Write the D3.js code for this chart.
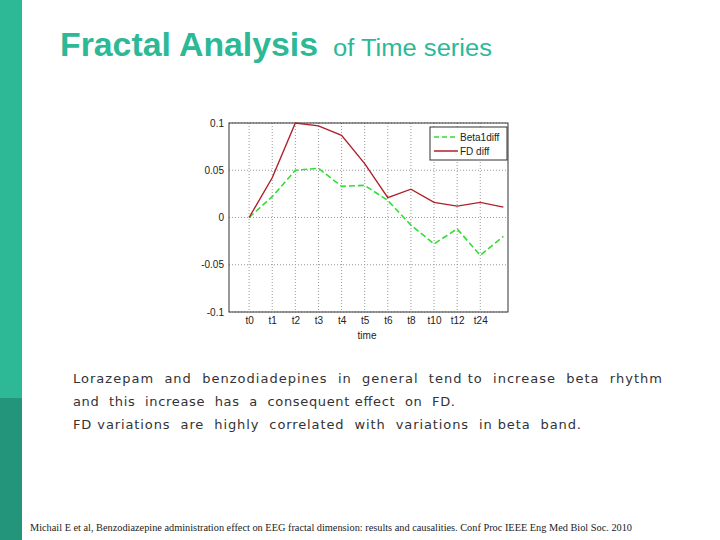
<!DOCTYPE html>
<html><head><meta charset="utf-8">
<script src="https://cdn.jsdelivr.net/npm/d3@7"></script>
<style>body{margin:0;background:#fff}svg{display:block}</style>
</head><body><div id="c"></div>
<script>
const labels = ["t0","t1","t2","t3","t4","t5","t6","t8","t10","t12","t24",""];
const fdDiff = [0,0.042,0.1,0.097,0.087,0.057,0.021,0.03,0.016,0.012,0.016,0.011];
const beta1Diff = [0,0.022,0.05,0.052,0.033,0.034,0.018,-0.008,-0.028,-0.012,-0.04,-0.02];
const yTicks = [0.1,0.05,0,-0.05,-0.1];
const bodyLines = [
  "Lorazepam  and  benzodiadepines  in  general  tend to  increase  beta  rhythm",
  "and  this  increase  has  a  consequent effect  on  FD.",
  "FD variations  are  highly  correlated  with  variations  in beta  band."
];
const citation = "Michail E et al, Benzodiazepine administration effect on EEG fractal dimension: results and causalities. Conf Proc IEEE Eng Med Biol Soc. 2010";

const svg = d3.select("#c").append("svg").attr("width",720).attr("height",540);
svg.append("rect").attr("width",22).attr("height",540).attr("fill","#2db896");
svg.append("rect").attr("y",398).attr("width",22).attr("height",142).attr("fill","#22957a");

const title = svg.append("text").attr("y",56).attr("fill","#2db896")
  .style("font-family","Liberation Sans, Arial, sans-serif");
title.append("tspan").attr("x",60).text("Fractal Analysis").attr("font-size",33).attr("font-weight","bold")
  .attr("textLength",258).attr("lengthAdjust","spacingAndGlyphs");
title.append("tspan").attr("x",333).text("of Time series").attr("font-size",23)
  .attr("textLength",159).attr("lengthAdjust","spacingAndGlyphs");

const x = d3.scaleLinear().domain([-0.87,11.2]).range([229,508]);
const y = d3.scaleLinear().domain([-0.1,0.1]).range([312,123]);
const g = svg.append("g").style("font-family","Liberation Sans, Arial, sans-serif").style("font-size","10px");

// grid
g.selectAll(".gx").data(labels.slice(0,11)).join("line")
  .attr("x1",(d,i)=>x(i)).attr("x2",(d,i)=>x(i)).attr("y1",123).attr("y2",312)
  .attr("stroke","#999").attr("stroke-dasharray","1,2");
g.selectAll(".gy").data(yTicks).join("line")
  .attr("x1",229).attr("x2",508).attr("y1",d=>y(d)).attr("y2",d=>y(d))
  .attr("stroke","#999").attr("stroke-dasharray","1,2");
g.append("rect").attr("x",229).attr("y",123).attr("width",279).attr("height",189)
  .attr("fill","none").attr("stroke","#333");

g.append("g").attr("transform","translate(229,0)")
  .call(d3.axisLeft(y).tickValues(yTicks).tickSize(0).tickPadding(5).tickFormat(d=>d===0?"0":String(d)))
  .call(a=>a.select(".domain").remove()).selectAll("text").attr("fill","#222");
g.append("g").attr("transform","translate(0,312)")
  .call(d3.axisBottom(x).tickValues(d3.range(11)).tickSize(0).tickPadding(5).tickFormat(i=>labels[i]))
  .call(a=>a.select(".domain").remove()).selectAll("text").attr("fill","#222");
g.append("text").attr("x",367).attr("y",339).attr("text-anchor","middle").attr("fill","#222").text("time");

const line = d3.line().x((d,i)=>x(i)).y(d=>y(d));
g.append("path").attr("d",line(beta1Diff)).attr("fill","none").attr("stroke","#33dd33")
  .attr("stroke-width",1.6).attr("stroke-dasharray","6,3");
g.append("path").attr("d",line(fdDiff)).attr("fill","none").attr("stroke","#b0202a").attr("stroke-width",1.4);

// legend
const lg = g.append("g");
lg.append("rect").attr("x",430).attr("y",127).attr("width",77).attr("height",33).attr("fill","#fff").attr("stroke","#333");
[["Beta1diff","#33dd33","5,3"],["FD diff","#b0202a",null]].forEach(([t,c,da],i)=>{
  const yy = 137+i*14;
  lg.append("line").attr("x1",434).attr("x2",458).attr("y1",yy).attr("y2",yy).attr("stroke",c)
    .attr("stroke-width",1.5).attr("stroke-dasharray",da);
  lg.append("text").attr("x",460).attr("y",yy+3.5).attr("fill","#222").text(t);
});

const bodyLen = [589,382,508];
svg.selectAll(".body").data(bodyLines).join("text")
  .attr("x",73).attr("y",(d,i)=>383+i*23).attr("fill","#333")
  .style("font-family","DejaVu Sans, sans-serif").style("font-size","13px")
  .style("white-space","pre").attr("textLength",(d,i)=>bodyLen[i]).attr("lengthAdjust","spacing").text(d=>d);
svg.append("text").attr("x",30).attr("y",531).attr("fill","#222")
  .style("font-family","Liberation Serif, serif").style("font-size","9.5px").attr("textLength",602)
  .attr("lengthAdjust","spacingAndGlyphs").text(citation);
</script></body></html>
